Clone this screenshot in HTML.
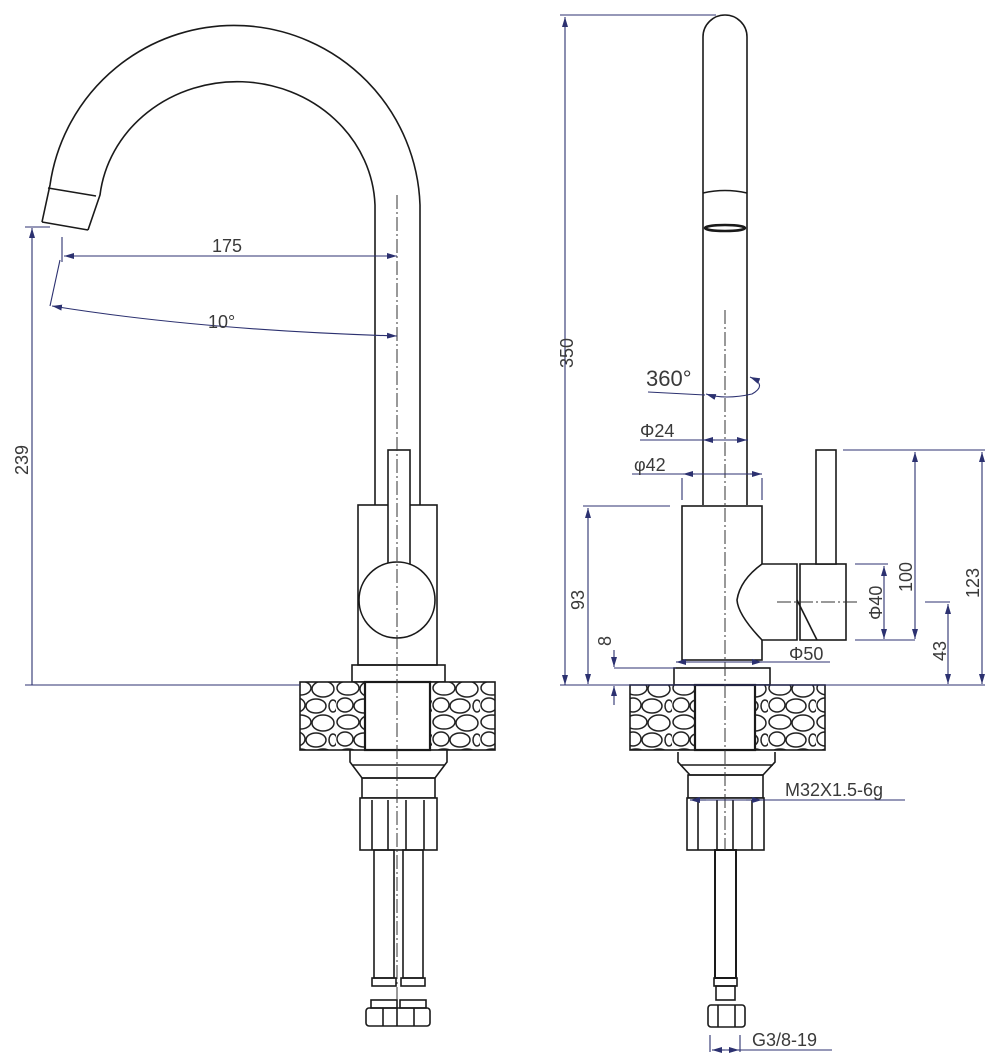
<!DOCTYPE html>
<html><head><meta charset="utf-8"><style>
html,body{margin:0;padding:0;background:#fff;}
svg{display:block;}
text{font-family:"Liberation Sans","DejaVu Sans",sans-serif;fill:#3a3a3a;}
</style></head><body>
<svg width="1000" height="1064" viewBox="0 0 1000 1064" xmlns="http://www.w3.org/2000/svg">
<defs>
<pattern id="st" width="48" height="34" patternUnits="userSpaceOnUse">
<rect width="48" height="34" fill="#fff"/>
<g fill="none" stroke="#222" stroke-width="1.5">
<ellipse cx="12" cy="8" rx="11" ry="7"/>
<ellipse cx="35" cy="9" rx="11" ry="8"/>
<ellipse cx="9" cy="25" rx="8" ry="7"/>
<ellipse cx="28" cy="26" rx="10" ry="7"/>
<ellipse cx="45" cy="26" rx="4" ry="6"/>
</g>
</pattern>
<marker id="a" viewBox="0 0 10 6" refX="10" refY="3" markerWidth="10" markerHeight="6" orient="auto-start-reverse" markerUnits="userSpaceOnUse"><path d="M0,0 L10,3 L0,6 Z" fill="#2c3170"/></marker>
</defs>

<g fill="none" stroke="#1a1a1a" stroke-width="1.6">
<!-- LEFT VIEW -->
<path d="M420,205 A186,186 0 0 0 50,185 L42,222"/>
<path d="M375,205 A138,128 0 0 0 100,195 L88,230"/>
<path d="M42,222 L88,230"/>
<path d="M48,188 L96,196"/>
<line x1="375" y1="205" x2="375" y2="505"/>
<line x1="420" y1="205" x2="420" y2="505"/>
<rect x="358" y="505" width="79" height="160" fill="#fff"/>
<rect x="388" y="450" width="22" height="115" fill="#fff"/>
<circle cx="397" cy="600" r="38" fill="#fff"/>
<rect x="352" y="665" width="93" height="17"/>
<rect x="300" y="682" width="195" height="68" fill="url(#st)"/>
<rect x="365" y="682" width="65" height="68" fill="#fff" stroke-width="2.2"/>
<path d="M350,750 L350,762 L362,778 L435,778 L447,762 L447,750"/>
<line x1="352" y1="765" x2="445" y2="765"/>
<rect x="362" y="778" width="73" height="20"/>
<rect x="360" y="798" width="77" height="52" fill="#fff"/>
<line x1="372" y1="800" x2="372" y2="850"/>
<line x1="388" y1="800" x2="388" y2="850"/>
<line x1="406" y1="800" x2="406" y2="850"/>
<line x1="424" y1="800" x2="424" y2="850"/>
<rect x="374" y="850" width="20" height="128"/>
<rect x="403" y="850" width="20" height="128"/>
<rect x="372" y="978" width="24" height="8"/>
<rect x="401" y="978" width="24" height="8"/>
<rect x="371" y="1000" width="26" height="8"/>
<rect x="400" y="1000" width="26" height="8"/>
<rect x="366" y="1008" width="64" height="18" rx="3"/>
<line x1="383" y1="1008" x2="383" y2="1026"/>
<line x1="397" y1="1008" x2="397" y2="1026"/>
<line x1="414" y1="1008" x2="414" y2="1026"/>

<!-- RIGHT VIEW -->
<path d="M703,505 L703,37 A22,22 0 0 1 747,37 L747,505"/>
<path d="M703,193 Q725,188 747,193"/>
<ellipse cx="725" cy="228" rx="20" ry="3" stroke-width="2.6"/>
<rect x="682" y="506" width="80" height="154" fill="#fff"/>
<path d="M762,564 L797,564 L797,640 L762,640 Q738,615 737,600 Q740,580 762,564 Z" fill="#fff"/>
<rect x="800" y="564" width="46" height="76" fill="#fff"/>
<line x1="797" y1="600" x2="817" y2="640"/>
<rect x="816" y="450" width="20" height="114" fill="#fff"/>
<rect x="674" y="668" width="96" height="17"/>
<rect x="630" y="685" width="195" height="65" fill="url(#st)"/>
<rect x="695" y="685" width="60" height="65" fill="#fff" stroke-width="2.2"/>
<path d="M678,752 L678,762 L690,775 L763,775 L775,762 L775,752"/>
<line x1="680" y1="765" x2="773" y2="765"/>
<rect x="688" y="775" width="75" height="23"/>
<rect x="687" y="798" width="77" height="52" fill="#fff"/>
<line x1="698" y1="800" x2="698" y2="850"/>
<line x1="717" y1="800" x2="717" y2="850"/>
<line x1="733" y1="800" x2="733" y2="850"/>
<line x1="752" y1="800" x2="752" y2="850"/>
<rect x="715" y="850" width="21" height="128" stroke-width="2"/>
<rect x="714" y="978" width="23" height="8"/>
<rect x="716" y="986" width="19" height="14"/>
<rect x="708" y="1005" width="37" height="22" rx="3"/>
<line x1="718" y1="1005" x2="718" y2="1027"/>
<line x1="735" y1="1005" x2="735" y2="1027"/>
</g>

<g stroke="#333" stroke-width="1" stroke-dasharray="14,3,2,3" fill="none">
<line x1="397" y1="195" x2="397" y2="1000"/>
<line x1="725" y1="310" x2="725" y2="850"/>
<line x1="777" y1="602" x2="860" y2="602"/>
</g>

<g stroke="#2c3170" stroke-width="1.1" fill="none">
<line x1="25" y1="227" x2="50" y2="227"/>
<line x1="32" y1="685" x2="32" y2="228" marker-end="url(#a)"/>
<line x1="25" y1="685" x2="300" y2="685"/>
<line x1="62" y1="237" x2="62" y2="262"/>
<line x1="64" y1="256" x2="397" y2="256" marker-start="url(#a)" marker-end="url(#a)"/>
<line x1="60" y1="260" x2="50" y2="306"/>
<path d="M52,306 Q200,330 397,336" marker-start="url(#a)" marker-end="url(#a)"/>
<line x1="560" y1="15" x2="716" y2="15"/>
<line x1="565" y1="17" x2="565" y2="685" marker-start="url(#a)" marker-end="url(#a)"/>
<line x1="560" y1="685" x2="985" y2="685"/>
<line x1="648" y1="392" x2="705" y2="395"/>
<path d="M706,394 Q725,400 752,394 Q768,385 750,377" marker-start="url(#a)" marker-end="url(#a)"/>
<line x1="640" y1="440" x2="748" y2="440"/>
<line x1="715" y1="440" x2="703" y2="440" marker-end="url(#a)"/>
<line x1="735" y1="440" x2="747" y2="440" marker-end="url(#a)"/>
<line x1="632" y1="474" x2="762" y2="474"/>
<line x1="695" y1="474" x2="683" y2="474" marker-end="url(#a)"/>
<line x1="750" y1="474" x2="762" y2="474" marker-end="url(#a)"/>
<line x1="682" y1="478" x2="682" y2="500"/>
<line x1="762" y1="478" x2="762" y2="500"/>
<line x1="583" y1="506" x2="670" y2="506"/>
<line x1="588" y1="508" x2="588" y2="684" marker-start="url(#a)" marker-end="url(#a)"/>
<line x1="614" y1="668" x2="676" y2="668"/>
<line x1="614" y1="650" x2="614" y2="667" marker-end="url(#a)"/>
<line x1="614" y1="705" x2="614" y2="686" marker-end="url(#a)"/>
<line x1="676" y1="662" x2="830" y2="662"/>
<line x1="690" y1="662" x2="676" y2="662" marker-end="url(#a)"/>
<line x1="750" y1="662" x2="762" y2="662" marker-end="url(#a)"/>
<line x1="855" y1="564" x2="888" y2="564"/>
<line x1="855" y1="640" x2="915" y2="640"/>
<line x1="884" y1="566" x2="884" y2="639" marker-start="url(#a)" marker-end="url(#a)"/>
<line x1="915" y1="452" x2="915" y2="639" marker-start="url(#a)" marker-end="url(#a)"/>
<line x1="843" y1="450" x2="985" y2="450"/>
<line x1="982" y1="452" x2="982" y2="684" marker-start="url(#a)" marker-end="url(#a)"/>
<line x1="925" y1="602" x2="950" y2="602"/>
<line x1="948" y1="604" x2="948" y2="684" marker-start="url(#a)" marker-end="url(#a)"/>
<line x1="690" y1="800" x2="905" y2="800"/>
<line x1="706" y1="800" x2="690" y2="800" marker-end="url(#a)"/>
<line x1="746" y1="800" x2="762" y2="800" marker-end="url(#a)"/>
<line x1="710" y1="1035" x2="710" y2="1052"/>
<line x1="740" y1="1035" x2="740" y2="1052"/>
<line x1="712" y1="1050" x2="832" y2="1050"/>
<line x1="725" y1="1050" x2="712" y2="1050" marker-end="url(#a)"/>
<line x1="728" y1="1050" x2="739" y2="1050" marker-end="url(#a)"/>
</g>

<g font-size="18">
<text x="212" y="252">175</text>
<text x="208" y="328">10°</text>
<text transform="translate(28,475) rotate(-90)">239</text>
<text transform="translate(573,368) rotate(-90)">350</text>
<text x="646" y="386" font-size="22">360°</text>
<text x="640" y="437">Φ24</text>
<text x="634" y="471">φ42</text>
<text transform="translate(584,610) rotate(-90)">93</text>
<text transform="translate(611,646) rotate(-90)">8</text>
<text x="789" y="660">Φ50</text>
<text transform="translate(882,620) rotate(-90)">Φ40</text>
<text transform="translate(912,592) rotate(-90)">100</text>
<text transform="translate(979,598) rotate(-90)">123</text>
<text transform="translate(946,661) rotate(-90)">43</text>
<text x="785" y="796">M32X1.5-6g</text>
<text x="752" y="1046">G3/8-19</text>
</g>
</svg>
</body></html>
